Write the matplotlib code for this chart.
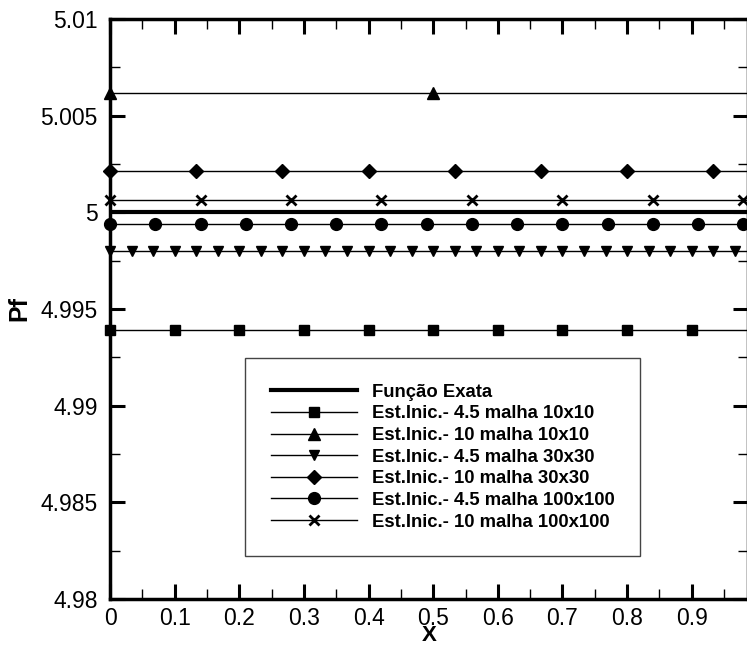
import numpy as np
import matplotlib
matplotlib.use("Agg")
import matplotlib.pyplot as plt
from matplotlib.ticker import MultipleLocator

plt.rcParams["font.family"] = ["Liberation Sans", "DejaVu Sans"]

# Pf along x for each initial estimate / mesh (solution is flat)
exact_pf = 5.0
labels = [
    "Est.Inic.- 4.5 malha 10x10",
    "Est.Inic.- 10 malha 10x10",
    "Est.Inic.- 4.5 malha 30x30",
    "Est.Inic.- 10 malha 30x30",
    "Est.Inic.- 4.5 malha 100x100",
    "Est.Inic.- 10 malha 100x100",
]
mesh_n = [10, 10, 30, 30, 100, 100]
pf_values = [4.99390, 5.00617, 4.99798, 5.00214, 4.99938, 5.00066]
marker_skip = [1, 5, 1, 4, 7, 14]
markers = ["s", "^", "v", "D", "o", "x"]
marker_sizes = [6.5, 8.5, 7, 7.5, 8.5, 7]


def main():
    fig = plt.figure(figsize=(7.47, 6.46), dpi=100)
    ax = fig.add_axes([0.1473, 0.0728, 0.8540, 0.8978])

    x_exact = np.array([0.0, 1.0])
    ax.plot(x_exact, [exact_pf, exact_pf], color="black", lw=3.0,
            label="Função Exata")

    for lab, n, pf, skip, mk, ms in zip(labels, mesh_n, pf_values,
                                        marker_skip, markers, marker_sizes):
        x = np.linspace(0.0, 1.0, n + 1)
        y = np.full_like(x, pf)
        ax.plot(x, y, color="black", lw=1.0, marker=mk, ms=ms,
                markevery=skip, mew=2.0 if mk == "x" else 1.0,
                clip_on=False, label=lab)

    ax.set_xlim(0.0, 0.987)
    ax.set_ylim(4.98, 5.01)

    ax.xaxis.set_minor_locator(MultipleLocator(0.05))
    ax.yaxis.set_minor_locator(MultipleLocator(0.0025))
    ax.set_xticks(np.arange(0, 1.0, 0.1))
    ax.set_xticklabels(["0", "0.1", "0.2", "0.3", "0.4", "0.5",
                        "0.6", "0.7", "0.8", "0.9"])
    ax.set_yticks([4.98, 4.985, 4.99, 4.995, 5.0, 5.005, 5.01])
    ax.set_yticklabels(["4.98", "4.985", "4.99", "4.995", "5",
                        "5.005", "5.01"])

    ax.tick_params(which="both", direction="in", top=True, right=True,
                   labelsize=16.5)
    ax.tick_params(axis="y", pad=9)
    ax.tick_params(axis="x", pad=6)
    ax.tick_params(which="major", length=11, width=2.2)
    ax.tick_params(which="minor", length=7, width=1.0)

    for sp in ax.spines.values():
        sp.set_linewidth(2.5)

    # "X" sits right at the bottom edge of the figure
    ax.set_xlabel("X", fontsize=16, fontweight="bold")
    ax.xaxis.label.set_va("bottom")
    ax.xaxis.set_label_coords(0.5, -0.0805)
    ax.set_ylabel("Pf", fontsize=18, fontweight="bold", labelpad=6)

    leg = ax.legend(loc="upper left", bbox_to_anchor=(0.2119, 0.4155),
                    borderaxespad=0.0,
                    frameon=True, fancybox=False, framealpha=1.0,
                    edgecolor="#444444", handlelength=4.65,
                    handletextpad=0.8, labelspacing=0.25, borderpad=1.4,
                    prop={"weight": "bold", "size": 13.3})
    leg.get_frame().set_linewidth(1.0)

    fig.savefig("out.png", dpi=100)


if __name__ == "__main__":
    main()
